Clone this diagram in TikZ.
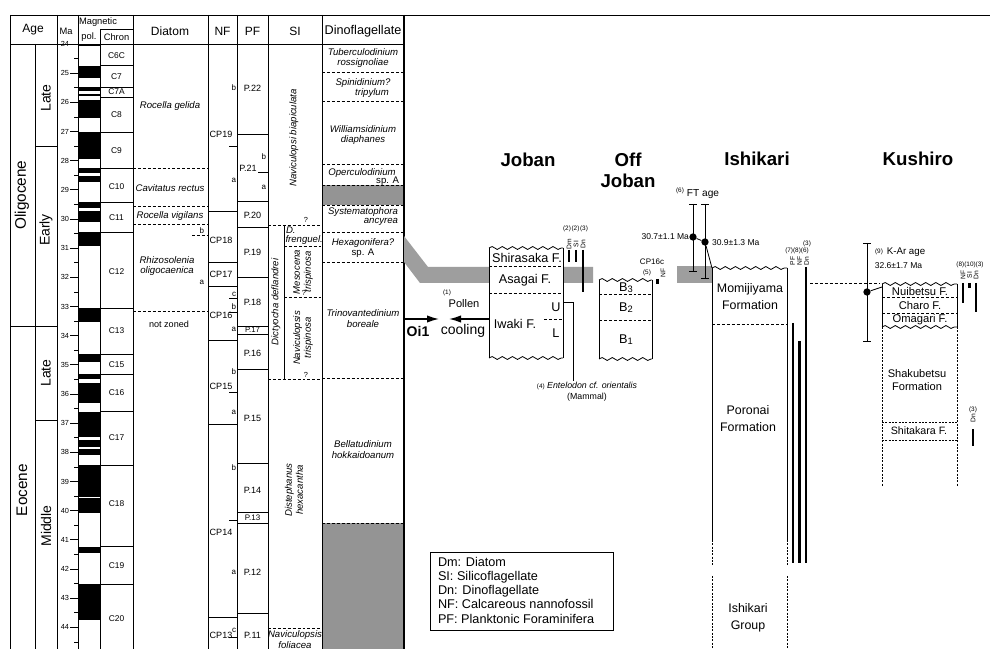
\documentclass[tikz,border=0pt]{standalone}
\usepackage{fontspec}
\setmainfont{Liberation Sans}
\usetikzlibrary{decorations.pathmorphing,arrows.meta}
\newcommand{\fsz}[2]{\fontsize{#1}{#2}\selectfont}
\definecolor{bandgray}{gray}{0.62}
\definecolor{zonegray}{gray}{0.58}
\begin{document}
\begin{tikzpicture}[x=0.75pt,y=-0.75pt,
  lbl/.style={inner sep=0pt,outer sep=0pt},
  hdr/.style={lbl,font=\fsz{9}{10}},
  ch/.style={lbl,font=\fsz{6.3}{7}},
  tk/.style={lbl,font=\fsz{5.5}{6},anchor=east},
  itl/.style={lbl,font=\fsz{7.2}{8.2}\itshape,align=center},
  zn/.style={lbl,font=\fsz{6.8}{7}},
  sml/.style={lbl,font=\fsz{6}{6},anchor=east},
  rl/.style={line width=0.6pt},
  dsh/.style={line width=0.6pt,dash pattern=on 2.2pt off 1.5pt},
  dtt/.style={line width=0.6pt,dash pattern=on 1.5pt off 1pt},
  wavy/.style={line width=0.6pt,decorate,decoration={snake,segment length=7.6pt,amplitude=1.1pt}},
  fbar/.style={line width=1.8pt},
  supl/.style={lbl,font=\fsz{4.8}{5}},
  vtag/.style={lbl,font=\fsz{5}{5},rotate=90},
  fm/.style={lbl,font=\fsz{9.5}{11.5},align=center},
  kfm/.style={lbl,font=\fsz{8.4}{10},align=center},
  ttl/.style={lbl,font=\fsz{14}{16}\bfseries,align=center},
  epo/.style={lbl,font=\fsz{11.5}{12},rotate=90},
  sub/.style={lbl,font=\fsz{10.5}{11},rotate=90},
  arr/.style={line width=1pt,-{Latex[length=9pt,width=5.5pt]}},
]
\useasboundingbox (0,0) rectangle (990,649);
\fill[white] (0,0) rectangle (990,649);
% ---------- gray zones ----------
\fill[zonegray] (322,185) rectangle (404,205);
\fill[zonegray] (322,523) rectangle (404,649);
% ---------- magnetic polarity ----------
\foreach \a/\b in {44/46.5,66.5/78.5,87/91.5,94/96.5,100/118,132/159,168/173,176/182,202/208,211/222,232/246,308/322,354/362,374/379,383/403,412/437,440/447,449/455,465/496.5,498/513,547/553,584/620}
  \fill[black] (78,\a) rectangle (100,\b);
% ---------- frame ----------
\draw[rl] (10,15) -- (990,15);
\draw[rl] (10,15) -- (10,649);
\draw[rl] (10,44) -- (404,44);
\foreach \x in {57,78,133,208,237,268,322} \draw[rl] (\x,15) -- (\x,649);
\draw[rl] (35,44) -- (35,649);
\draw[rl] (100,29) -- (100,649);
\draw[rl] (100,29) -- (133,29);
\draw[line width=2pt] (404,15) -- (404,649);
% ---------- headers ----------
\node[hdr] (hAge) at (33,30) {Age};
\node[lbl,font=\fsz{7}{8}] (hMa) at (66,31) {Ma};
\node[lbl,font=\fsz{7}{8}] (hMag) at (98,22) {Magnetic};
\node[lbl,font=\fsz{7}{8}] (hPol) at (89,37) {pol.};
\node[lbl,font=\fsz{7}{8}] (hChron) at (116.5,37) {Chron};
\node[hdr] (hDiatom) at (170,31) {Diatom};
\node[hdr] (hNF) at (222.5,31) {NF};
\node[hdr] (hPF) at (252.5,31) {PF};
\node[hdr] (hSI) at (295,31) {SI};
\node[lbl,font=\fsz{9.5}{10}] (hDino) at (363,31) {Dinoflagellate};
% ---------- age ----------
\draw[rl] (10,326) -- (57,326);
\draw[rl] (35,146) -- (57,146);
\draw[rl] (35,420) -- (57,420);
\node[epo] (oligo) at (22,195) {Oligocene};
\node[epo] (eoc) at (22,490) {Eocene};
\node[sub] (lateO) at (46,98) {Late};
\node[sub] (earlyO) at (46,230) {Early};
\node[sub] (lateE) at (46,373) {Late};
\node[sub] (midE) at (46,526) {Middle};
% ---------- Ma scale ----------
\foreach \m in {24,...,44} {
  \pgfmathsetmacro{\yy}{44+(\m-24)*29.17}
  \pgfmathsetmacro{\yh}{\yy+14.585}
  \draw[rl] (70,\yy) -- (78,\yy);
  \draw[rl] (74,\yh) -- (78,\yh);
  \node[tk] (ma\m) at (69,\yy) {\m};
}
% ---------- chrons ----------
\foreach \y in {65,87,97,132,168,202,232,308,354,374,411,465,546,584} \draw[rl] (100,\y) -- (133,\y);
\foreach \n/\y in {C6C/56,C7/77,C7A/92,C8/115,C9/151,C10/187,C11/218,C12/272,C13/331,C15/365,C16/393,C17/438,C18/504,C19/566,C20/619}
  \node[ch] (chr\n) at (116.5,\y) {\n};
% ---------- diatom ----------
\foreach \y in {168,206,224,311} \draw[dsh] (133,\y) -- (208,\y);
\draw[dsh] (192,235) -- (208,235);
\node[itl] (dt1) at (170,106) {Rocella gelida};
\node[itl] (dt2) at (170,188) {Cavitatus rectus};
\node[itl] (dt3) at (170,216) {Rocella vigilans};
\node[sml] (dtb) at (204,231) {b};
\node[itl] (dt4) at (167,266) {Rhizosolenia\\oligocaenica};
\node[sml] (dta) at (204,282) {a};
\node[zn] (dt5) at (169,324) {not zoned};
% ---------- NF ----------
\foreach \y in {211,262,286,340,424,617} \draw[rl] (208,\y) -- (237,\y);
\foreach \y in {146,298,312,392,520,637} \draw[rl] (229,\y) -- (237,\y);
\foreach \n/\t/\y in {1/b/88,2/a/180,3/c/294,4/b/307,5/a/329,6/b/372,7/a/412,8/b/468,9/a/572,10/c/630}
  \node[sml] (nfs\n) at (236,\y) {\t};
\foreach \n/\y in {CP19/134,CP18/240,CP17/274,CP16/315,CP15/386,CP14/532,CP13/635}
  \node[zn] (nf\n) at (221,\y) {\n};
% ---------- PF ----------
\foreach \y in {134,201,227,277,326,334,369,463,512,523,613} \draw[rl] (237,\y) -- (268,\y);
\draw[rl] (258,172) -- (268,172);
\node[sml] (pfb) at (266,157) {b};
\node[sml] (pfa) at (266,187) {a};
\foreach \n/\y in {22/88,20/215,19/252,18/302,16/353,15/418,14/490,12/572,11/635}
  \node[zn] (pf\n) at (252.5,\y) {P.\n};
\node[zn] (pf21) at (248,168) {P.21};
\node[lbl,font=\fsz{5.8}{6}] (pf17) at (252.5,330) {P.17};
\node[lbl,font=\fsz{6}{6}] (pf13) at (252.5,518) {P.13};
% ---------- SI ----------
\draw[dsh] (268,225) -- (322,225);
\draw[rl] (284,225) -- (284,379);
\draw[dsh] (284,246) -- (322,246);
\draw[dsh] (284,297) -- (322,297);
\draw[dsh] (268,379) -- (322,379);
\draw[dsh] (268,628) -- (322,628);
\node[lbl,font=\fsz{5.5}{6}] (q1) at (306,220) {?};
\node[lbl,font=\fsz{5.5}{6}] (q2) at (304,293) {?};
\node[lbl,font=\fsz{5.5}{6}] (q3) at (306,375) {?};
\node[itl,rotate=90] (si1) at (294,138) {Naviculopsi biapiculata};
\node[itl,rotate=90] (si2) at (276,302) {Dictyocha deflandrei};
\node[itl,anchor=west] (si3) at (286,230) {D.};
\node[itl,anchor=west] (si3b) at (285.5,240) {frenguel.};
\node[itl,rotate=90] (si4) at (303,272) {Mesocena\\trispinosa};
\node[itl,rotate=90] (si5) at (303,338) {Naviculopsis\\trispinosa};
\node[itl,rotate=90] (si6) at (294,490) {Distephanus\\hexacantha};
\node[itl] (si7) at (295,640) {Naviculopsis\\foliacea};
% ---------- Dinoflagellate ----------
\foreach \y in {72,101,164,185,205,232,262,378,523} \draw[dsh] (322,\y) -- (404,\y);
\node[itl] (dn1) at (363,58) {Tuberculodinium\\rossignoliae};
\node[itl] (dn2) at (363,83) {Spinidinium?};
\node[itl] (dn2b) at (372,93) {tripylum};
\node[itl] (dn3) at (363,135) {Williamsidinium\\diaphanes};
\node[itl] (dn4) at (362,173) {Operculodinium};
\node[lbl,font=\fsz{7.2}{8},anchor=east] (dn4b) at (399,181) {sp. A};
\node[itl] (dn5) at (363,212) {Systematophora};
\node[itl,anchor=east] (dn5b) at (398,222) {ancyrea};
\node[itl] (dn6) at (363,243) {Hexagonifera?};
\node[lbl,font=\fsz{7.2}{8}] (dn6b) at (363,253) {sp. A};
\node[itl] (dn7) at (363,319) {Trinovantedinium\\boreale};
\node[itl] (dn8) at (363,450) {Bellatudinium\\hokkaidoanum};
% ================= right panel =================
\fill[bandgray] (404,236) -- (428,267) -- (593,267) -- (593,283) -- (420,283) -- (404,262) -- cycle;
\fill[bandgray] (677,266) rectangle (712,283);
% titles
\node[ttl] (tJoban) at (528,160) {Joban};
\node[ttl] (tOff) at (628,170) {Off\\Joban};
\node[ttl] (tIshi) at (757,159) {Ishikari};
\node[ttl] (tKushi) at (918,159) {Kushiro};
% ---------- Joban ----------
\fill[white] (489,248) rectangle (563,358);
\draw[rl] (489,248) -- (489,358);
\draw[rl] (563,248) -- (563,358);
\draw[wavy] (489,248) -- (563,248);
\draw[wavy] (489,358) -- (563,358);
\draw[dsh] (489,266) -- (563,266);
\draw[dsh] (489,293) -- (563,293);
\draw[dsh] (544,319) -- (563,319);
\node[fm] (jShi) at (527,257.5) {Shirasaka F.};
\node[fm] (jAsa) at (525,280) {Asagai F.};
\node[fm] (jIwa) at (515,324) {Iwaki F.};
\node[fm] (jU) at (556,307) {U};
\node[fm] (jL) at (556,333) {L};
\coordinate (entTop) at (563,302);
\node[lbl,font=\fsz{6.6}{7}] (ent) at (587,386) {{\fsz{4.8}{5}(4)} \textit{Entelodon cf. orientalis}};
\node[lbl,font=\fsz{6.6}{7}] (mam) at (587,397.5) {(Mammal)};
\draw[rl] (entTop) -- (573,302) -- (573,381);
% fossil bars Joban
\draw[fbar] (569,250) -- (569,262);
\draw[fbar] (576,250) -- (576,262);
\draw[fbar] (583,250) -- (583,292);
\node[vtag] (jDm) at (569,244) {Dm};
\node[vtag] (jSl) at (576,244) {SI};
\node[vtag] (jDn) at (583,244) {Dn};
\node[supl] (jr1) at (567,229) {(2)};
\node[supl] (jr2) at (575.5,229) {(2)};
\node[supl] (jr3) at (584,229) {(3)};
% Oi1 / cooling
\node[lbl,font=\fsz{10.5}{11}\bfseries] (oi1) at (418,331) {Oi1};
\node[lbl,font=\fsz{10.5}{11}] (cool) at (463,331) {cooling};
\node[lbl,font=\fsz{8.3}{9}] (pol) at (464,304) {Pollen};
\node[supl] (r1) at (447,293) {(1)};
\coordinate (oiS) at (405,319);
\coordinate (oiT) at (439,319);
\coordinate (coS) at (489,319);
\coordinate (coT) at (449,319);
\draw[arr] (oiS) -- (oiT);
\draw[arr] (coS) -- (coT);
% ---------- Off Joban ----------
\fill[white] (599,280) rectangle (652,359);
\draw[rl] (599,280) -- (599,359);
\draw[rl] (652,280) -- (652,359);
\draw[wavy] (599,280) -- (652,280);
\draw[wavy] (599,359) -- (652,359);
\draw[dsh] (599,294) -- (652,294);
\draw[dsh] (599,320) -- (652,320);
\node[fm] (b3) at (626,288) {B\raisebox{-0.6pt}{\fsz{7}{7}3}};
\node[fm] (b2) at (626,308) {B\raisebox{-0.6pt}{\fsz{7}{7}2}};
\node[fm] (b1) at (626,340) {B\raisebox{-0.6pt}{\fsz{7}{7}1}};
\node[lbl,font=\fsz{6}{6}] (cp16c) at (652,262) {CP16c};
\node[supl] (r5) at (647,273) {(5)};
\node[vtag] (oNF) at (663,273) {NF};
\draw[line width=2pt] (657.5,279) -- (657.5,284);
% ---------- Ishikari ----------
\node[supl] (r6) at (680,191) {(6)};
\node[lbl,font=\fsz{7.6}{8}] (ft) at (703,194) {FT age};
\draw[rl] (693,204) -- (693,271);
\draw[rl] (689,204) -- (697,204);
\draw[rl] (689,271) -- (697,271);
\draw[rl] (705,204) -- (705,278);
\draw[rl] (701,204) -- (709,204);
\draw[rl] (701,278) -- (709,278);
\node[circle,fill=black,inner sep=0pt,minimum size=5.5pt] (ftd1) at (693,237) {};
\node[circle,fill=black,inner sep=0pt,minimum size=5.5pt] (ftd2) at (705,242) {};
\coordinate (ishTL) at (712,268);
\draw[rl] (ftd1) -- (ftd2);
\draw[rl] (ftd2) -- (ishTL);
\node[lbl,font=\fsz{6.4}{7},anchor=east] (ft1) at (689,237) {30.7±1.1 Ma};
\node[lbl,font=\fsz{6.4}{7},anchor=west] (ft2) at (712,243) {30.9±1.3 Ma};
\draw[wavy] (712,268) -- (787,268);
\draw[rl] (712,268) -- (712,540);
\draw[rl] (787,268) -- (787,540);
\draw[dtt] (712,540) -- (712,565);
\draw[dtt] (787,540) -- (787,565);
\draw[dtt] (712,576) -- (712,649);
\draw[dtt] (787,576) -- (787,649);
\draw[dsh] (712,324) -- (787,324);
\node[fm,font=\fsz{9.3}{12.5}] (momi) at (750,296.5) {Momijiyama\\Formation};
\node[fm,font=\fsz{9.3}{12.5}] (poro) at (748,418.5) {Poronai\\Formation};
\node[fm,font=\fsz{9.3}{12.5}] (ishg) at (748,618) {Ishikari\\Group};
\draw[fbar] (793,323) -- (793,563);
\draw[fbar] (799.5,341) -- (799.5,563);
\draw[fbar] (806,267) -- (806,563);
\node[vtag] (iPF) at (792.5,261) {PF};
\node[vtag] (iNF) at (799.5,261) {NF};
\node[vtag] (iDn) at (806.5,261) {Dn};
\node[supl] (r786) at (797,251) {(7)(8)(6)};
\node[supl] (r3i) at (807,244) {(3)};
\draw[dsh] (810,283) -- (880,283);
% ---------- Kushiro ----------
\draw[rl] (867,243) -- (867,341);
\draw[rl] (863,243) -- (871,243);
\draw[rl] (863,341) -- (871,341);
\node[circle,fill=black,inner sep=0pt,minimum size=5.5pt] (kad) at (867,292) {};
\coordinate (kusTL) at (882,287);
\draw[rl] (kad) -- (kusTL);
\node[supl] (r9) at (879,252) {(9)};
\node[lbl,font=\fsz{7.3}{8}] (kar) at (906,252) {K-Ar age};
\node[lbl,font=\fsz{6.4}{7}] (kar2) at (898.5,266) {32.6±1.7 Ma};
\fill[white] (882,284) rectangle (957,327);
\draw[wavy] (882,284) -- (957,284);
\draw[wavy] (882,327) -- (957,327);
\draw[rl] (882,284) -- (882,327);
\draw[rl] (957,284) -- (957,327);
\draw[dsh] (882,297) -- (957,297);
\draw[dsh] (882,313) -- (957,313);
\draw[dtt] (882,327) -- (882,487);
\draw[dtt] (957,327) -- (957,487);
\draw[dtt] (882,422) -- (957,422);
\draw[dtt] (882,440) -- (957,440);
\node[kfm] (nui) at (920,291) {Nuibetsu F.};
\node[kfm] (cha) at (920,305) {Charo F.};
\node[kfm] (oma) at (920,319.5) {Omagari F.};
\node[kfm,font=\fsz{8.3}{10}] (shak) at (917,380) {Shakubetsu\\Formation};
\node[kfm,font=\fsz{8}{9}] (shit) at (919,431) {Shitakara F.};
\draw[fbar] (963,283) -- (963,303);
\draw[fbar] (969.5,283) -- (969.5,288);
\draw[fbar] (976,283) -- (976,312);
\node[vtag] (kNF) at (963,275) {NF};
\node[vtag] (kSl) at (969.5,275) {SI};
\node[vtag] (kDn) at (976,275) {Dn};
\node[supl] (r8103) at (970,265) {(8)(10)(3)};
\node[supl] (r3k) at (973,410) {(3)};
\node[vtag] (kDn2) at (973,418) {Dn};
\draw[fbar] (973,429) -- (973,446);
% ---------- legend ----------
\draw[rl] (430,552) rectangle (613,630);
\node[lbl,font=\fsz{9.5}{10.7},align=left,anchor=north west] (legend) at (438,557) {Dm: Diatom\\SI: Silicoflagellate\\Dn: Dinoflagellate\\NF: Calcareous nannofossil\\PF: Planktonic Foraminifera};
\end{tikzpicture}
\end{document}
